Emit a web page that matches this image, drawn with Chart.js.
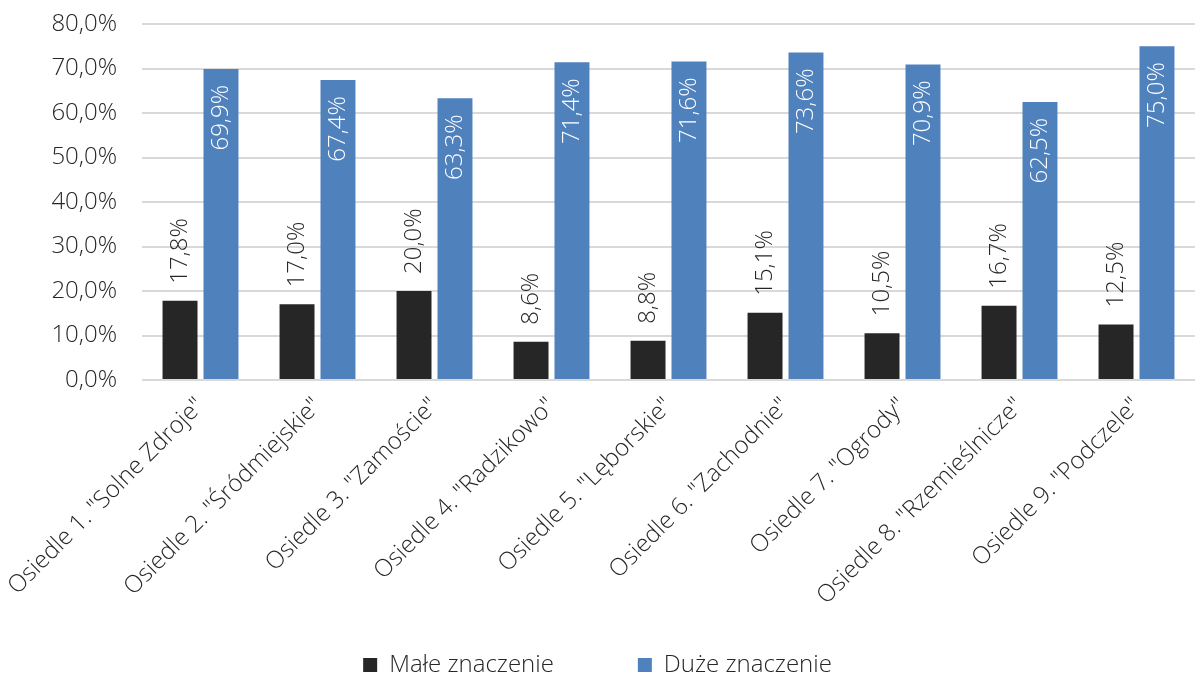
<!DOCTYPE html>
<html><head><meta charset="utf-8">
<script src="https://cdn.jsdelivr.net/npm/chart.js@4/dist/chart.umd.min.js"></script>
<style>html,body{margin:0;padding:0;background:#fff}#wrap{width:1204px;height:677px}</style>
</head><body><div id="wrap"><canvas id="c" width="1204" height="677"></canvas></div>
<script>
const categories = ['Osiedle 1. "Solne Zdroje"','Osiedle 2. "Śródmiejskie"','Osiedle 3. "Zamoście"','Osiedle 4. "Radzikowo"','Osiedle 5. "Lęborskie"','Osiedle 6. "Zachodnie"','Osiedle 7. "Ogrody"','Osiedle 8. "Rzemieślnicze"','Osiedle 9. "Podczele"'];
const maleZnaczenie = [17.8,17.0,20.0,8.6,8.8,15.1,10.5,16.7,12.5];
const duzeZnaczenie = [69.9,67.4,63.3,71.4,71.6,73.6,70.9,62.5,75.0];
const seriesNames = ['Małe znaczenie','Duże znaczenie'];
const FONT = '"Open Sans", "Segoe UI", sans-serif';
const fmt = v => v.toFixed(1).replace('.', ',') + '%';
const LEGEND_GAP = 84;

const labelPlugin = {
  id: 'vlabels',
  afterLayout(chart) {
    const lg = chart.legend;
    if (lg) {
      lg.top = 665 - LEGEND_GAP - 12;
      lg.bottom = 700;
      lg.height = lg.bottom - lg.top;
    }
  },
  afterDatasetsDraw(chart) {
    const ctx = chart.ctx;
    chart.data.datasets.forEach((ds, di) => {
      const meta = chart.getDatasetMeta(di);
      meta.data.forEach((bar, i) => {
        const txt = fmt(ds.data[i]);
        ctx.save();
        ctx.font = '300 24px ' + FONT;
        ctx.textBaseline = 'middle';
        if (di === 0) {
          ctx.translate(bar.x, bar.y - 17);
          ctx.rotate(-Math.PI / 2);
          ctx.textAlign = 'left';
          ctx.fillStyle = '#262626';
        } else {
          ctx.translate(bar.x, bar.y + 16);
          ctx.rotate(-Math.PI / 2);
          ctx.textAlign = 'right';
          ctx.fillStyle = '#ffffff';
        }
        ctx.fillText(txt, 0, 0);
        ctx.restore();
      });
    });
  }
};

new Chart(document.getElementById('c'), {
  type: 'bar',
  data: {
    labels: categories,
    datasets: [
      { label: seriesNames[0], data: maleZnaczenie, backgroundColor: '#262626', categoryPercentage: 0.70, barPercentage: 0.854 },
      { label: seriesNames[1], data: duzeZnaczenie, backgroundColor: '#4f81bd', categoryPercentage: 0.70, barPercentage: 0.854 }
    ]
  },
  options: {
    responsive: false,
    animation: false,
    layout: { autoPadding: false, padding: { top: 24, right: 9, left: 0, bottom: -3 } },
    plugins: {
      tooltip: { enabled: false },
      legend: {
        position: 'bottom',
        maxHeight: 60,
        labels: { font: { family: FONT, size: 24, weight: 300 }, color: '#262626', boxWidth: 14, boxHeight: 14, padding: LEGEND_GAP }
      }
    },
    scales: {
      x: {
        grid: { display: false },
        border: { display: false },
        afterFit: s => { s.height = 240; },
        ticks: { font: { family: FONT, size: 24, weight: 300 }, color: '#262626', minRotation: 45, maxRotation: 45, padding: 4, autoSkip: false }
      },
      y: {
        min: 0, max: 80,
        afterFit: s => { s.width = 142; },
        grid: { color: '#d9d9d9', lineWidth: 2, drawTicks: true, tickLength: 25, tickColor: 'rgba(0,0,0,0)' },
        border: { display: false },
        ticks: { stepSize: 10, font: { family: FONT, size: 24, weight: 300 }, color: '#262626', padding: 0, callback: v => fmt(v) }
      }
    }
  },
  plugins: [labelPlugin]
});
</script></body></html>
